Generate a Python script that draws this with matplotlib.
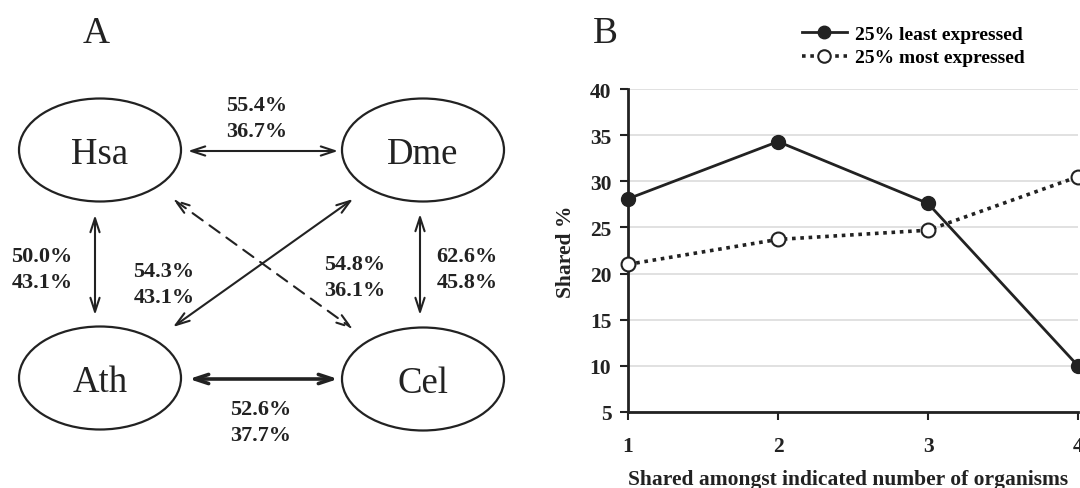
import matplotlib
matplotlib.use('Agg')
import matplotlib.pyplot as plt
from matplotlib.patches import Ellipse

# ---- data ----
organisms = ['Hsa', 'Dme', 'Ath', 'Cel']
edge_pairs = [('Hsa', 'Dme'), ('Hsa', 'Ath'), ('Ath', 'Dme'),
              ('Hsa', 'Cel'), ('Dme', 'Cel'), ('Ath', 'Cel')]
edge_least = ['55.4%', '50.0%', '54.3%', '54.8%', '62.6%', '52.6%']
edge_most = ['36.7%', '43.1%', '43.1%', '36.1%', '45.8%', '37.7%']

n_organisms = [1, 2, 3, 4]
least_expressed = [28.1, 34.3, 27.6, 10.0]
most_expressed = [21.0, 23.7, 24.7, 30.5]
yticks = [5, 10, 15, 20, 25, 30, 35, 40]

# ---- layout (pixels in panel A) ----
node_xy = {'Hsa': (100, 151), 'Dme': (423, 151), 'Ath': (100, 379), 'Cel': (423, 380)}
arrow_ends = {
    ('Hsa', 'Dme'): ((188, 152), (338, 152)),
    ('Hsa', 'Ath'): ((95, 216), (95, 316)),
    ('Ath', 'Dme'): ((173, 328), (353, 200)),
    ('Hsa', 'Cel'): ((173, 200), (353, 330)),
    ('Dme', 'Cel'): ((420, 215), (420, 316)),
    ('Ath', 'Cel'): ((189, 380), (338, 380)),
}
label_pos = {  # center x, baseline of first line
    ('Hsa', 'Dme'): (257, 111),
    ('Hsa', 'Ath'): (42, 262),
    ('Ath', 'Dme'): (164, 277),
    ('Hsa', 'Cel'): (355, 270),
    ('Dme', 'Cel'): (467, 262),
    ('Ath', 'Cel'): (261, 415),
}

plt.rcParams['font.family'] = ['Liberation Serif', 'DejaVu Serif']
ink = '#222222'

fig = plt.figure(figsize=(10.8, 4.89), dpi=100)

# Panel A: network diagram
axA = fig.add_axes([0, 0, 0.5, 1])
axA.set_xlim(0, 540)
axA.set_ylim(489, 0)
axA.axis('off')

for name in organisms:
    x, y = node_xy[name]
    axA.add_patch(Ellipse((x, y), 162, 103, fill=False, ec=ink, lw=1.6))
    axA.text(x, y + 13, name, ha='center', va='baseline', fontsize=26.5, color=ink)

for pair, top, bottom in zip(edge_pairs, edge_least, edge_most):
    (x0, y0), (x1, y1) = arrow_ends[pair]
    ls = (0, (6, 4)) if pair == ('Hsa', 'Cel') else '-'
    lw = 2.6 if pair == ('Ath', 'Cel') else 1.5
    axA.annotate('', xy=(x1, y1), xytext=(x0, y0),
                 arrowprops=dict(arrowstyle='<->,head_length=1.0,head_width=0.33',
                                 color=ink, lw=lw, linestyle=ls,
                                 shrinkA=0, shrinkB=0))
    lx, ly = label_pos[pair]
    axA.text(lx, ly, top, ha='center', va='baseline', fontsize=16,
             fontweight='bold', color=ink)
    axA.text(lx, ly + 26, bottom, ha='center', va='baseline', fontsize=16,
             fontweight='bold', color=ink)

fig.text(96 / 1080, 1 - 43 / 489, 'A', ha='center', va='baseline', fontsize=27, color=ink)
fig.text(605 / 1080, 1 - 43 / 489, 'B', ha='center', va='baseline', fontsize=27, color=ink)

# Panel B: line chart
left, right, top, bottom = 628, 1078, 90, 413
axB = fig.add_axes([left / 1080, 1 - bottom / 489, (right - left) / 1080, (bottom - top) / 489])
axB.plot(n_organisms, least_expressed, '-o', color=ink, lw=2, ms=10,
         mfc=ink, mec=ink, clip_on=False, zorder=3, label='25% least expressed')
axB.plot(n_organisms, most_expressed, 'o', color=ink, ls=(0, (1, 1.3)), lw=2.6, ms=10,
         mfc='white', mec=ink, mew=1.5, clip_on=False, zorder=3,
         label='25% most expressed')
axB.set_xlim(1, 4)
axB.set_ylim(5, 40)
axB.set_xticks(n_organisms)
axB.set_yticks(yticks)
axB.yaxis.grid(True, color='#dcdcdc', lw=1.2)
axB.set_axisbelow(True)
for s in ['top', 'right']:
    axB.spines[s].set_visible(False)
for s in ['left', 'bottom']:
    axB.spines[s].set_linewidth(2)
    axB.spines[s].set_color(ink)
axB.tick_params(axis='both', direction='out', length=6, width=1.5, color=ink,
                labelsize=15.5, labelcolor=ink)
axB.tick_params(axis='y', pad=6)
axB.tick_params(axis='x', pad=11)
for lab in axB.get_xticklabels() + axB.get_yticklabels():
    lab.set_fontweight('bold')
axB.set_ylabel('Shared %', fontsize=15.5, fontweight='bold', color=ink)
axB.yaxis.set_label_coords(-0.115, 0.5)
axB.set_xlabel('Shared amongst indicated number of organisms', fontsize=15.5,
               fontweight='bold', color=ink)
axB.xaxis.set_label_coords(0.49, -0.178)

fig.legend(loc='upper left', bbox_to_anchor=(802 / 1080, 1 - 26 / 489),
           frameon=False, borderpad=0, borderaxespad=0, handlelength=2.3,
           handletextpad=0.45, labelspacing=0.32,
           prop=dict(family='Liberation Serif', weight='bold', size=14),
           markerscale=0.9)

fig.savefig('out.png', dpi=100)
